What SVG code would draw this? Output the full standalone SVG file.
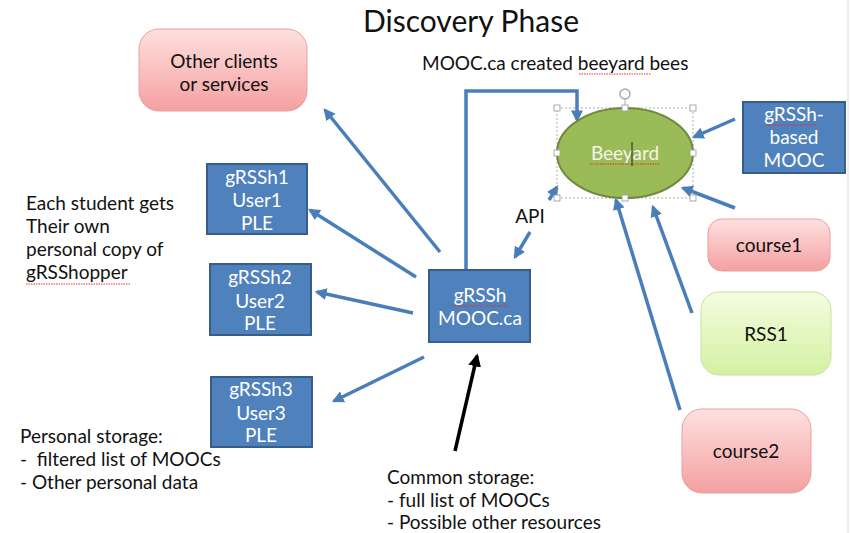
<svg xmlns="http://www.w3.org/2000/svg" width="851" height="533" viewBox="0 0 851 533">
<style>
.t{font-family:Lato,"Liberation Sans",sans-serif;fill:#111;font-size:19px}
.m{text-anchor:middle}
.w{font-family:Lato,"Liberation Sans",sans-serif;fill:#fff;font-size:19px;text-anchor:middle}
.blue{fill:#4f81bd;stroke:#385d8a;stroke-width:2}
.c{stroke:#4a7ebb;stroke-width:3.5;fill:none;marker-end:url(#ah)}
.sp{stroke:#e03030;stroke-width:1;stroke-dasharray:1.5 1;fill:none}
</style>
<defs>
<marker id="ah" viewBox="0 0 10 10" refX="8" refY="5" markerWidth="12" markerHeight="12" markerUnits="userSpaceOnUse" orient="auto"><path d="M0,0 L10,5 L0,10 z" fill="#4a7ebb"/></marker>
<marker id="ahk" viewBox="0 0 10 10" refX="8" refY="5" markerWidth="13" markerHeight="13" markerUnits="userSpaceOnUse" orient="auto"><path d="M0,0 L10,5 L0,10 z" fill="#000"/></marker>
<linearGradient id="pink" x1="0" y1="0" x2="0" y2="1"><stop offset="0" stop-color="#ffe0e0"/><stop offset="1" stop-color="#f4a0a0"/></linearGradient>
<linearGradient id="green" x1="0" y1="0" x2="0" y2="1"><stop offset="0" stop-color="#f4fde0"/><stop offset="1" stop-color="#d3f1a2"/></linearGradient>
</defs>
<rect width="851" height="533" fill="#fff"/>
<line x1="848" y1="0" x2="848" y2="533" stroke="#ddd" stroke-width="1"/>
<text class="t m" x="471" y="32" font-size="30" style="font-size:30px">Discovery Phase</text>
<text class="t" x="422" y="70">MOOC.ca created beeyard bees</text>
<path class="sp" d="M579,74 L651,74"/>
<g id="labels">
<text class="t" x="26" y="210">Each student gets</text>
<text class="t" x="26" y="233">Their own</text>
<text class="t" x="26" y="256">personal copy of</text>
<text class="t" x="26" y="279">gRSShopper</text>
<path class="sp" d="M26,284 L130,284"/>
<text class="t" x="20" y="443">Personal storage:</text>
<text class="t" x="20" y="466" xml:space="preserve">-  filtered list of MOOCs</text>
<text class="t" x="20" y="489">- Other personal data</text>
<text class="t" x="387" y="484">Common storage:</text>
<text class="t" x="387" y="507">- full list of MOOCs</text>
<text class="t" x="387" y="529">- Possible other resources</text>
<text class="t m" x="530" y="223">API</text>
</g>
<g id="connectors">
<polyline class="c" points="466,270 466,91 577,91 577,120" stroke-width="4"/>
<line class="c" x1="440" y1="252" x2="325" y2="110"/>
<line class="c" x1="416" y1="277" x2="310" y2="210"/>
<line class="c" x1="413" y1="313" x2="317" y2="292"/>
<line class="c" x1="424" y1="357" x2="334" y2="401"/>
<line class="c" x1="530" y1="232" x2="515" y2="257"/>
<line class="c" x1="549" y1="200" x2="557" y2="187"/>
<line class="c" x1="735" y1="119" x2="694" y2="137"/>
<line class="c" x1="735" y1="208" x2="683" y2="188"/>
<line class="c" x1="692" y1="313" x2="653" y2="207"/>
<line class="c" x1="680" y1="410" x2="616" y2="200"/>
<line x1="455" y1="451" x2="477" y2="356" stroke="#000" stroke-width="3.5" marker-end="url(#ahk)"/>
</g>
<g id="other-clients">
<rect x="139" y="29" width="168" height="82" rx="20" fill="url(#pink)" stroke="#e8a0a0" stroke-width="1"/>
<text class="t m" x="224" y="68">Other clients</text>
<text class="t m" x="224" y="91">or services</text>
</g>
<g id="beeyard">
<rect x="557" y="108" width="136" height="90" fill="none" stroke="#999" stroke-width="0.8" stroke-dasharray="2 2"/>
<ellipse cx="625" cy="153" rx="68" ry="45" fill="#9bbb59" stroke="#71893f" stroke-width="2"/>
<line x1="625" y1="108" x2="625" y2="98" stroke="#999" stroke-width="0.8"/>
<circle cx="625" cy="94" r="5" fill="none" stroke="#aaa" stroke-width="1.5"/>
<g fill="#fff" stroke="#999" stroke-width="0.8">
<rect x="554" y="105" width="6" height="6"/><rect x="622" y="105" width="6" height="6"/><rect x="690" y="105" width="6" height="6"/>
<rect x="554" y="150" width="6" height="6"/><rect x="690" y="150" width="6" height="6"/>
<rect x="554" y="195" width="6" height="6"/><rect x="622" y="195" width="6" height="6"/><rect x="690" y="195" width="6" height="6"/>
</g>
<text class="w" x="625" y="160" style="fill:#f4f4e8">Beeyard</text>
<path class="sp" d="M590,164 L660,164"/>
<line x1="632" y1="142" x2="632" y2="166" stroke="#222" stroke-width="1"/>
</g>
<g id="grssh-based-mooc">
<rect class="blue" x="743" y="102" width="102" height="71"/>
<text class="w" x="794" y="121">gRSSh-</text>
<path class="sp" d="M765,125 L816,125"/>
<text class="w" x="794" y="144">based</text>
<text class="w" x="794" y="167">MOOC</text>
</g>
<g id="course1">
<rect x="708" y="219" width="122" height="52" rx="14" fill="url(#pink)" stroke="#e8a0a0" stroke-width="1"/>
<text class="t m" x="769" y="252">course1</text>
</g>
<g id="rss1">
<rect x="701" y="292" width="130" height="83" rx="18" fill="url(#green)" stroke="#c8e0a0" stroke-width="1"/>
<text class="t m" x="766" y="341">RSS1</text>
</g>
<g id="course2">
<rect x="682" y="409" width="129" height="84" rx="20" fill="url(#pink)" stroke="#e8a0a0" stroke-width="1"/>
<text class="t m" x="746" y="458">course2</text>
</g>
<g id="grssh-mooc">
<rect class="blue" x="429" y="270" width="101" height="72"/>
<text class="w" x="480" y="302">gRSSh</text>
<path class="sp" d="M452,306 L508,306"/>
<text class="w" x="480" y="325">MOOC.ca</text>
</g>
<g id="user1">
<rect class="blue" x="207" y="164" width="100" height="70"/>
<text class="w" x="257" y="184">gRSSh1</text>
<text class="w" x="257" y="207">User1</text>
<text class="w" x="257" y="230">PLE</text>
</g>
<g id="user2">
<rect class="blue" x="210" y="264" width="101" height="71"/>
<text class="w" x="260" y="284">gRSSh2</text>
<text class="w" x="260" y="308">User2</text>
<text class="w" x="260" y="330">PLE</text>
</g>
<g id="user3">
<rect class="blue" x="211" y="377" width="101" height="70"/>
<text class="w" x="261" y="396">gRSSh3</text>
<text class="w" x="261" y="420">User3</text>
<text class="w" x="261" y="442">PLE</text>
</g>
</svg>
